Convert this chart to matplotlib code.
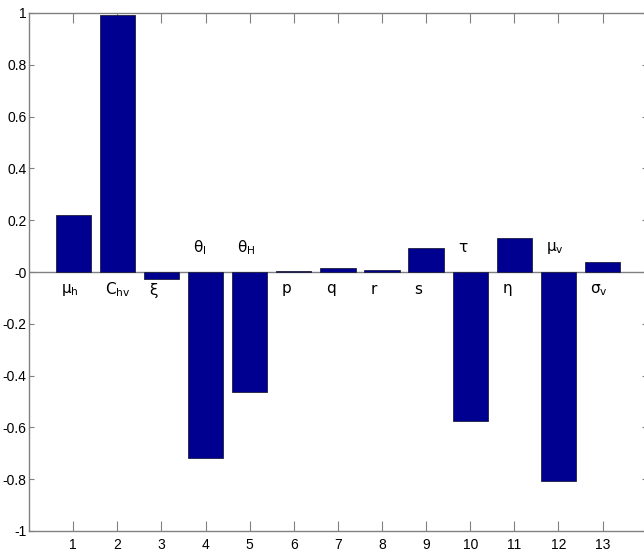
import matplotlib
matplotlib.use("Agg")
import matplotlib.pyplot as plt
import numpy as np

plt.rcParams["font.family"] = ["Liberation Sans Narrow", "Liberation Sans", "DejaVu Sans"]
plt.rcParams["mathtext.fontset"] = "custom"
plt.rcParams["mathtext.rm"] = "Liberation Sans Narrow"
plt.rcParams["mathtext.it"] = "Liberation Sans Narrow"

positions = np.arange(1, 14)
values = [0.219, 0.994, -0.028, -0.717, -0.463, 0.003, 0.014,
          0.006, 0.094, -0.575, 0.132, -0.807, 0.039]
param_labels = [r"$\mu_h$", r"$C_{hv}$", r"$\xi$", r"$\theta_I$", r"$\theta_H$",
                r"$p$", r"$q$", r"$r$", r"$s$", r"$\tau$", r"$\eta$",
                r"$\mu_v$", r"$\sigma_v$"]
label_above = [False, False, False, True, True, False, False,
               False, False, True, False, True, False]
yticks = np.round(np.arange(-1, 1.01, 0.2), 1)

BAR = "#000090"
AXC = "#808080"

fig = plt.figure(figsize=(6.44, 5.54), dpi=100)
ax = fig.add_axes([29.2 / 644, 23 / 554, 617.4 / 644, 518 / 554])

ax.bar(positions, values, width=0.8, color=BAR, edgecolor="#202040",
       linewidth=0.6, zorder=3)
ax.axhline(0, color=AXC, lw=1.0, zorder=2)

for x, lab, up in zip(positions, param_labels, label_above):
    y = 0.093 if up else -0.07
    ax.text(x - 0.28, y, lab, ha="left", va="center", fontsize=11, color="black")

ax.set_xlim(0, 14)
ax.set_ylim(-1, 1)
ax.set_xticks(positions)
ax.set_yticks(yticks)
ax.set_yticklabels([f"{v:g}" for v in yticks])
for s in ax.spines.values():
    s.set_color(AXC)
    s.set_linewidth(1.0)
ax.tick_params(axis="x", direction="in", length=7.5, color=AXC, top=True,
               labelsize=10, pad=5)
ax.tick_params(axis="y", direction="in", length=3.8, color=AXC, right=True,
               labelsize=10, pad=2)

fig.savefig("out.png", dpi=100)
